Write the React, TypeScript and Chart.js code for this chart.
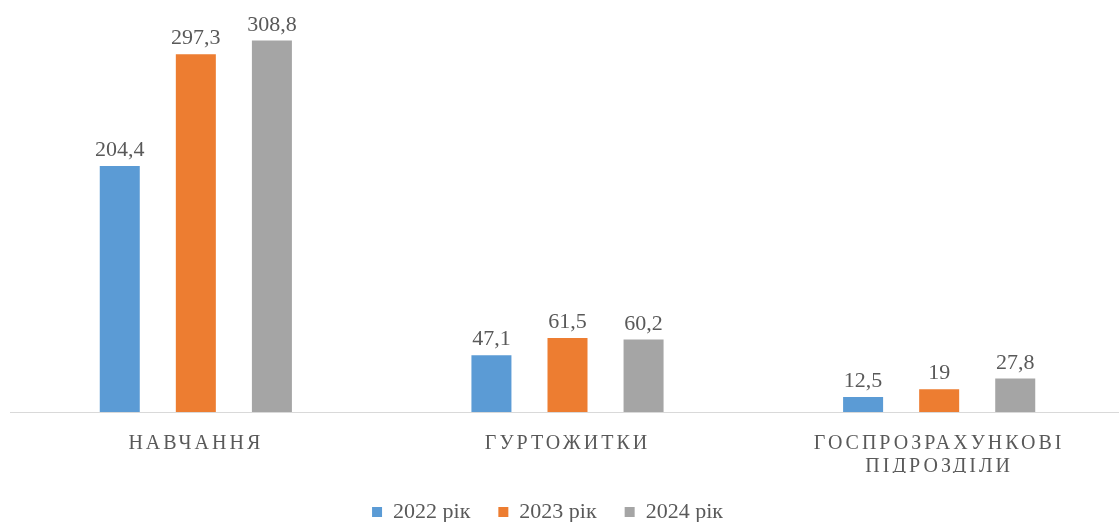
import React, { useEffect, useRef } from "react";
import { Chart, registerables } from "chart.js";

Chart.register(...registerables);

const categories: (string | string[])[] = ["НАВЧАННЯ", "ГУРТОЖИТКИ", ["ГОСПРОЗРАХУНКОВІ", "ПІДРОЗДІЛИ"]];
const seriesNames = ["2022 рік", "2023 рік", "2024 рік"];
const values2022 = [204.4, 47.1, 12.5];
const values2023 = [297.3, 61.5, 19];
const values2024 = [308.8, 60.2, 27.8];
const colors = ["#5B9BD5", "#ED7D31", "#A5A5A5"];

const FONT = "'Liberation Serif', 'Times New Roman', serif";
const TEXT = "#595959";

const fmt = (v: number) => String(v).replace(".", ",");

const dataLabels = {
  id: "dataLabels",
  afterDatasetsDraw(chart: any) {
    const ctx = chart.ctx;
    ctx.save();
    ctx.font = `22px ${FONT}`;
    ctx.fillStyle = TEXT;
    ctx.textAlign = "center";
    ctx.textBaseline = "alphabetic";
    chart.data.datasets.forEach((ds: any, i: number) => {
      const meta = chart.getDatasetMeta(i);
      meta.data.forEach((bar: any, j: number) => {
        ctx.fillText(fmt(ds.data[j]), bar.x, bar.y - 10);
      });
    });
    ctx.restore();
  },
};

const spacedTicks = {
  id: "spacedTicks",
  afterLayout(chart: any) {
    const s = chart.scales.x;
    if (s && !s.__patched) {
      const orig = s.drawLabels.bind(s);
      s.drawLabels = (area: any) => {
        const ctx = chart.ctx;
        ctx.save();
        (ctx as any).letterSpacing = "3px";
        orig(area);
        ctx.restore();
      };
      s.__patched = true;
    }
    // shift the legend slightly left, as in the reference
    if (chart.legend) {
      chart.legend.left -= 20;
      chart.legend.right -= 20;
    }
  },
};

export default function App() {
  const ref = useRef<HTMLCanvasElement>(null);
  useEffect(() => {
    if (!ref.current) return;
    const chart = new Chart(ref.current, {
      type: "bar",
      data: {
        labels: categories,
        datasets: [values2022, values2023, values2024].map((d, i) => ({
          label: seriesNames[i],
          data: d,
          backgroundColor: colors[i],
          borderWidth: 0,
          barPercentage: 0.526,
          categoryPercentage: 0.614,
        })),
      },
      options: {
        animation: false,
        responsive: true,
        maintainAspectRatio: false,
        layout: { padding: { top: 15, left: 10, right: 0, bottom: 0 } },
        plugins: {
          legend: {
            position: "bottom",
            labels: {
              boxWidth: 10,
              boxHeight: 10,
              padding: 28,
              color: TEXT,
              font: { family: FONT, size: 22 },
            },
          },
          tooltip: { enabled: false },
        },
        scales: {
          x: {
            grid: { display: false, drawTicks: false },
            border: { display: true, color: "#D9D9D9", width: 1 },
            afterFit: (scale: any) => {
              scale.height = 61;
            },
            ticks: {
              color: TEXT,
              padding: 20,
              maxRotation: 0,
              autoSkip: false,
              font: { family: FONT, size: 20, lineHeight: 1.15 },
            },
          },
          y: {
            display: false,
            min: 0,
            max: 330,
          },
        },
      },
      plugins: [dataLabels, spacedTicks],
    });
    return () => chart.destroy();
  }, []);
  return (
    <div style={{ position: "fixed", left: 0, top: 0, width: 1119, height: 522, overflow: "hidden", background: "#fff" }}>
      <div style={{ position: "absolute", left: 0, top: 0, width: 1125, height: 533 }}>
        <canvas ref={ref} />
      </div>
    </div>
  );
}
